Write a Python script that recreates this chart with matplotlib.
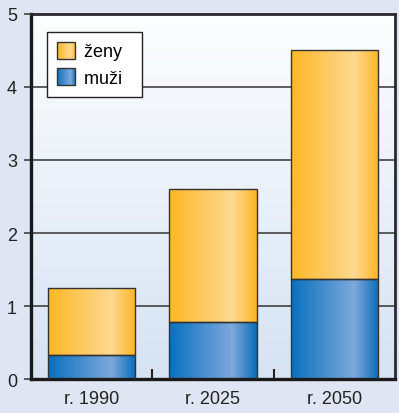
import numpy as np
import matplotlib
matplotlib.use("Agg")
import matplotlib.pyplot as plt
from matplotlib.colors import LinearSegmentedColormap
from matplotlib.patches import Rectangle
from matplotlib.legend_handler import HandlerBase
from matplotlib.image import BboxImage
from matplotlib.transforms import Bbox, TransformedBbox

plt.rcParams['font.family'] = ['Liberation Sans', 'DejaVu Sans']

# data
years = ["r. 1990", "r. 2025", "r. 2050"]
muzi = [0.33, 0.78, 1.37]
zeny = [0.92, 1.82, 3.13]
yticks = [0, 1, 2, 3, 4, 5]

orange = LinearSegmentedColormap.from_list(
    "orange", [(0, "#fdb726"), (0.72, "#fed991"), (1, "#fdb524")])
blue = LinearSegmentedColormap.from_list(
    "blue", [(0, "#0870bf"), (0.72, "#7ea8db"), (1, "#0a6cb9")])
bgmap = LinearSegmentedColormap.from_list("bg", ["#fdfeff", "#d6e3f3"])
grad = np.linspace(0, 1, 256).reshape(1, -1)


class GradHandler(HandlerBase):
    def __init__(self, cmap):
        super().__init__()
        self.cmap = cmap

    def create_artists(self, legend, orig_handle, xdescent, ydescent,
                       width, height, fontsize, trans):
        bb = Bbox.from_bounds(-xdescent, -ydescent, width, height)
        img = BboxImage(TransformedBbox(bb, trans), cmap=self.cmap,
                        interpolation="bilinear")
        img.set_data(grad)
        rect = Rectangle((-xdescent, -ydescent), width, height, fc="none",
                         ec="#333333", lw=1, transform=trans)
        return [img, rect]


fig = plt.figure(figsize=(3.99, 4.14), dpi=100, facecolor="#dfe5f2")
ax = fig.add_axes([0.0777, 0.0821, 0.912, 0.8817])

x = np.arange(len(years))
b1 = ax.bar(x, muzi, width=0.72, facecolor="none", edgecolor="#333333",
            lw=1, zorder=3)
b2 = ax.bar(x, zeny, bottom=muzi, width=0.72, facecolor="none",
            edgecolor="#333333", lw=1, zorder=3)

for bars, cm in ((b1, blue), (b2, orange)):
    for bar in bars:
        bx, by = bar.get_xy()
        im = ax.imshow(grad, cmap=cm, aspect="auto", zorder=2,
                       extent=[bx, bx + bar.get_width(), by, by + bar.get_height()])
        im.set_clip_path(bar)

# background gradient of the plot area
ax.imshow(np.linspace(0, 1, 256).reshape(-1, 1), cmap=bgmap, aspect="auto",
          extent=[0, 1, 0, 1], transform=ax.transAxes, zorder=0)

ax.set_xlim(-0.5, 2.5)
ax.set_ylim(0, 5)
ax.set_xticks(x)
ax.set_xticklabels(years)
ax.set_xticks([0.5, 1.5], minor=True)
ax.tick_params(axis="x", which="major", length=0, pad=8, labelsize=13,
               labelcolor="#222222")
ax.tick_params(axis="x", which="minor", direction="in", length=7, width=1.5,
               color="#222222")
ax.set_yticks(yticks)
ax.tick_params(axis="y", length=5, width=1.1, pad=5, labelsize=13,
               labelcolor="#222222", color="#333333")
ax.yaxis.grid(True, color="#333333", lw=1.1)
ax.set_axisbelow(True)

for side in ("left", "bottom"):
    ax.spines[side].set_linewidth(2.4)
    ax.spines[side].set_color("#1a1a1a")
for side in ("top", "right"):
    ax.spines[side].set_linewidth(2.0)
    ax.spines[side].set_color("#2a2a2a")

h_z = Rectangle((0, 0), 1, 1)
h_m = Rectangle((0, 0), 1, 1)
leg = ax.legend([h_z, h_m], ["ženy  ", "muži  "],
                handler_map={h_z: GradHandler(orange), h_m: GradHandler(blue)},
                loc="upper left", bbox_to_anchor=(0.044, 0.951),
                borderaxespad=0, fontsize=13, fancybox=False, framealpha=1,
                edgecolor="#222222", handlelength=1.0, handleheight=1.05,
                handletextpad=0.5, labelspacing=0.45, borderpad=0.55)
leg.get_frame().set_linewidth(1)
leg.set_zorder(5)

fig.savefig("out.png", dpi=100, facecolor=fig.get_facecolor())
